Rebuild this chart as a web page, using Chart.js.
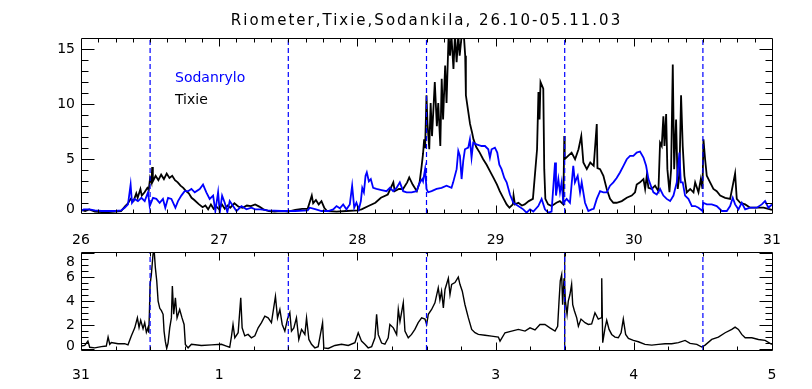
<!DOCTYPE html>
<html>
<head>
<meta charset="utf-8">
<script src="https://cdn.jsdelivr.net/npm/chart.js@4.4.1/dist/chart.umd.min.js"></script>
<style>
  body{margin:0;background:#fff;width:812px;height:389px;overflow:hidden;position:relative}
  canvas{position:absolute;left:0}
  #topChart{top:0}
  #botChart{top:247px}
</style>
</head>
<body>
<canvas id="topChart" width="812" height="247"></canvas>
<canvas id="botChart" width="812" height="142"></canvas>
<script>
// --- data (days) ---
const titleText = "Riometer,Tixie,Sodankila, 26.10-05.11.03";
const botDayLabels = ["31","1","2","3","4","5"];
const topMarks = [26.5, 27.5, 28.5, 29.5, 30.5];
const botMarks = [0.5, 1.5, 2.5, 3.5, 4.5];
const botSolid = [3.5];
const topYLabels = [0, 5, 10, 15];
const botYLabels = [0, 2, 4, 6, 8];
const topRange = [0.12, 16];
const botRange = [-0.08, 8.1];

// Tixie (black), upper panel
const tixT = [26.00,26.03,26.06,26.10,26.15,26.20,26.25,26.29,26.32,26.34,26.36,26.38,26.40,26.41,26.43,26.44,26.46,26.48,26.49,26.50,
  26.51,26.515,26.52,26.54,26.56,26.58,26.60,26.62,26.64,26.66,26.68,26.70,26.72,26.74,26.76,26.78,26.80,26.82,26.85,26.88,
  26.90,26.92,26.94,26.96,26.98,27.00,27.02,27.04,27.06,27.08,27.11,27.14,27.17,27.20,27.23,27.26,27.29,27.32,27.36,27.40,
  27.45,27.50,27.55,27.60,27.64,27.67,27.68,27.70,27.72,27.74,27.76,27.78,27.85,27.92,28.00,28.03,28.08,28.13,28.17,28.22,
  28.26,28.27,28.30,28.33,28.36,28.375,28.40,28.43,28.45,28.465,28.475,28.483,28.49,28.50,28.507,28.52,28.53,28.54,28.56,28.575,
  28.585,28.60,28.61,28.62,28.635,28.645,28.66,28.67,28.68,28.695,28.706,28.718,28.73,28.74,28.755,28.77,28.78,28.785,28.80,28.815,
  28.83,28.84,28.86,28.885,28.91,28.935,28.96,28.985,29.01,29.03,29.055,29.08,29.10,29.125,29.13,29.14,29.165,29.19,29.21,29.24,
  29.27,29.30,29.31,29.318,29.325,29.345,29.352,29.36,29.38,29.405,29.44,29.465,29.49,29.497,29.50,29.525,29.55,29.575,29.60,29.62,
  29.635,29.66,29.685,29.71,29.732,29.737,29.756,29.78,29.804,29.828,29.852,29.876,29.913,29.949,29.985,30.009,30.021,30.045,30.07,30.082,
  30.094,30.106,30.13,30.154,30.178,30.19,30.202,30.214,30.222,30.234,30.243,30.258,30.27,30.282,30.292,30.306,30.318,30.33,30.342,30.354,
  30.366,30.383,30.408,30.432,30.444,30.468,30.485,30.497,30.504,30.516,30.528,30.552,30.576,30.60,30.625,30.661,30.697,30.733,30.745,30.77,
  30.806,30.842,30.89,30.939,30.987,31.00];
const tixV = [0.4,0.3,0.45,0.25,0.2,0.2,0.25,0.3,0.75,1.0,1.4,1.2,1.9,1.5,2.3,1.7,2.0,2.4,2.2,3.3,
  2.9,4.3,3.0,3.5,3.1,3.6,3.2,3.7,3.3,3.5,3.1,2.9,2.6,2.4,2.1,1.9,1.5,1.3,0.95,0.65,
  0.8,0.45,0.9,0.5,0.7,0.45,0.9,0.5,0.8,0.6,1.0,0.7,0.6,0.8,0.75,0.9,0.7,0.45,0.3,0.25,
  0.3,0.25,0.4,0.5,0.5,1.7,1.0,1.3,0.9,1.2,0.6,0.3,0.25,0.3,0.35,0.45,0.75,1.05,1.5,1.8,
  2.9,2.1,2.3,2.3,2.9,3.35,2.7,2.1,2.9,4.4,5.5,6.8,6.0,10.8,8.3,5.9,10.1,7.1,12.0,8.0,
  10.1,6.2,12.3,8.6,13.5,10.1,16.3,14.4,16.3,13.2,16.3,13.8,16.3,14.4,16.3,16.3,14.4,10.8,9.5,8.2,
  7.4,6.8,6.1,5.6,5.0,4.5,3.9,3.3,2.7,2.1,1.5,0.9,0.6,0.9,1.7,0.9,1.05,0.8,0.9,1.2,
  1.4,5.9,11.1,8.6,12.0,11.4,4.1,1.4,0.9,0.75,1.05,1.2,0.9,7.1,5.0,5.3,5.6,5.0,5.9,7.1,
  4.7,4.1,4.7,4.4,8.2,4.2,4.1,3.5,2.3,1.4,1.05,1.05,1.2,1.5,1.7,2.0,2.7,2.9,3.2,2.3,
  3.5,2.4,2.3,2.6,2.1,6.5,6.2,8.9,6.2,9.1,4.1,2.0,4.1,13.6,4.1,8.6,2.3,3.5,10.8,6.2,
  3.5,2.0,2.3,2.0,2.9,2.0,3.2,2.3,6.8,5.0,3.5,2.9,2.3,2.1,1.7,1.5,1.4,3.7,1.4,1.05,
  0.9,0.6,0.6,0.6,0.45,0.4];

// Sodanrylo (blue), upper panel
const sodT = [26.00,26.02,26.06,26.10,26.15,26.20,26.25,26.29,26.316,26.34,26.359,26.369,26.388,26.412,26.437,26.461,26.485,26.497,26.521,26.545,
  26.569,26.593,26.61,26.63,26.654,26.683,26.702,26.726,26.75,26.775,26.799,26.823,26.859,26.883,26.907,26.931,26.956,26.972,26.992,27.004,
  27.021,27.04,27.059,27.076,27.10,27.125,27.161,27.197,27.233,27.26,27.30,27.35,27.45,27.55,27.64,27.655,27.70,27.74,27.79,27.825,
  27.849,27.873,27.897,27.921,27.945,27.962,27.977,27.993,28.01,28.025,28.035,28.047,28.059,28.068,28.083,28.097,28.114,28.138,28.175,28.211,
  28.235,28.259,28.283,28.307,28.331,28.356,28.392,28.428,28.452,28.469,28.475,28.49,28.50,28.512,28.537,28.573,28.609,28.645,28.681,28.693,
  28.718,28.73,28.742,28.754,28.766,28.778,28.802,28.814,28.826,28.838,28.862,28.899,28.923,28.947,28.959,28.971,28.995,29.012,29.027,29.043,
  29.063,29.08,29.104,29.128,29.164,29.20,29.224,29.249,29.273,29.309,29.333,29.357,29.381,29.405,29.43,29.437,29.454,29.466,29.478,29.49,
  29.514,29.538,29.562,29.574,29.594,29.611,29.623,29.647,29.671,29.695,29.71,29.732,29.756,29.78,29.804,29.828,29.852,29.876,29.90,29.925,
  29.949,29.973,29.997,30.021,30.045,30.07,30.089,30.106,30.123,30.142,30.166,30.19,30.214,30.238,30.263,30.287,30.311,30.33,30.34,30.354,
  30.371,30.395,30.42,30.444,30.468,30.497,30.502,30.528,30.564,30.60,30.637,30.673,30.697,30.716,30.733,30.757,30.781,30.806,30.842,30.89,
  30.926,30.95,30.974,31.00];
const sodV = [0.3,0.45,0.45,0.35,0.3,0.3,0.3,0.35,0.6,0.9,2.7,1.05,1.4,1.2,1.5,1.2,2.0,0.75,1.5,1.4,
  1.05,1.4,0.6,1.5,1.4,0.6,1.2,1.7,2.1,2.1,2.3,2.0,2.3,2.7,2.0,1.4,1.7,0.3,2.0,0.15,
  1.7,1.05,0.2,1.2,0.75,0.3,0.75,0.45,0.6,0.45,0.45,0.35,0.3,0.3,0.35,0.6,0.45,0.3,0.3,0.45,
  0.75,0.55,0.9,0.45,0.9,2.6,0.6,1.05,0.45,1.2,2.4,2.0,3.5,3.8,3.0,3.2,2.4,2.3,2.2,2.1,
  2.4,2.1,2.4,2.9,2.1,2.0,2.0,2.1,2.9,3.2,3.0,4.1,2.3,2.0,2.1,2.3,2.4,2.6,2.4,2.9,
  4.1,5.75,5.3,3.2,4.85,5.9,6.05,6.8,5.15,6.5,6.35,6.2,6.2,5.9,5.15,5.9,6.05,5.6,4.5,4.1,
  3.3,2.9,1.8,1.05,0.75,0.45,0.15,0.45,0.25,0.75,1.4,0.45,0.15,0.25,4.7,1.7,3.2,2.0,2.9,1.05,
  1.4,1.05,4.4,2.9,3.5,2.0,2.9,1.05,0.3,0.45,0.5,1.4,2.1,2.0,2.0,2.6,2.9,3.3,3.8,4.4,
  5.0,5.3,5.3,5.6,5.7,5.15,4.4,3.2,2.6,2.0,1.8,2.3,1.7,1.4,1.2,1.7,2.9,5.6,2.9,2.9,
  1.7,1.4,0.75,0.75,0.6,0.3,1.05,0.9,0.9,0.75,0.3,0.3,0.75,1.5,0.9,0.45,1.05,0.45,0.6,0.6,
  0.9,1.2,0.6,0.9];

// Tixie (black), lower panel: 0 = 31.10
const botT = [0.002,0.027,0.05,0.063,0.099,0.147,0.183,0.196,0.208,0.22,0.268,0.316,0.34,0.364,0.389,0.408,0.42,0.432,0.449,0.461,
  0.473,0.485,0.49,0.495,0.50,0.509,0.521,0.529,0.538,0.548,0.558,0.57,0.582,0.594,0.601,0.61,0.62,0.63,0.642,0.654,
  0.661,0.671,0.683,0.695,0.714,0.731,0.746,0.755,0.775,0.799,0.871,0.944,1.016,1.052,1.076,1.089,1.10,1.113,1.137,1.156,
  1.166,1.185,1.209,1.233,1.258,1.282,1.306,1.33,1.354,1.378,1.407,1.422,1.439,1.456,1.475,1.494,1.511,1.523,1.54,1.559,
  1.576,1.596,1.62,1.632,1.649,1.668,1.692,1.716,1.748,1.757,1.789,1.837,1.885,1.934,1.982,2.006,2.03,2.054,2.078,2.103,
  2.127,2.139,2.151,2.175,2.199,2.223,2.235,2.26,2.284,2.296,2.308,2.332,2.344,2.368,2.392,2.416,2.44,2.465,2.489,2.501,
  2.513,2.537,2.561,2.585,2.597,2.609,2.622,2.634,2.658,2.67,2.682,2.706,2.73,2.742,2.759,2.778,2.803,2.827,2.851,2.875,
  2.923,2.971,3.02,3.032,3.068,3.116,3.165,3.213,3.249,3.285,3.321,3.357,3.393,3.43,3.449,3.459,3.468,3.478,3.485,3.495,
  3.505,3.517,3.526,3.538,3.55,3.558,3.57,3.587,3.599,3.618,3.647,3.671,3.695,3.719,3.743,3.763,3.768,3.775,3.792,3.804,
  3.821,3.84,3.864,3.888,3.908,3.924,3.941,3.961,3.997,4.033,4.081,4.13,4.178,4.226,4.274,4.323,4.371,4.407,4.456,4.492,
  4.516,4.564,4.612,4.661,4.709,4.733,4.757,4.781,4.806,4.854,4.902,4.95,4.999];
const botV = [0.25,0.3,0.66,0.15,0.1,0.2,0.25,1.0,0.4,0.55,0.44,0.45,0.35,1.08,1.77,2.6,1.8,2.4,1.7,2.2,
  1.4,1.8,1.36,3.0,5.4,6.2,7.9,8.3,6.8,5.7,4.0,3.4,3.2,2.9,1.5,0.66,0.05,0.5,1.77,2.6,
  5.25,2.9,4.27,2.6,3.3,2.6,2.05,0.39,0.1,0.4,0.3,0.35,0.4,0.25,0.15,1.08,2.05,0.94,1.36,4.27,
  1.77,1.1,1.22,0.94,1.1,1.77,2.2,2.75,2.6,2.2,4.4,2.6,3.3,2.05,1.5,2.5,3.03,1.5,1.77,2.6,
  0.8,1.64,1.22,2.6,0.8,0.4,0.1,0.2,2.2,0.1,0.05,0.3,0.4,0.3,0.53,1.36,0.66,0.4,0.1,0.2,
  0.94,2.9,1.2,0.5,0.4,0.94,2.05,1.77,1.2,3.3,2.3,3.86,1.5,0.94,1.22,1.64,2.2,2.6,2.5,2.05,
  2.9,3.3,3.86,5.1,4.1,4.83,3.44,4.97,5.9,4.55,5.4,5.55,6.0,5.4,4.83,3.72,2.6,1.64,1.36,1.22,
  1.15,1.08,1.0,0.66,1.36,1.5,1.64,1.5,1.77,1.6,2.05,2.05,1.77,1.5,1.9,4.0,5.7,6.2,3.7,5.9,
  4.0,2.9,4.0,4.55,5.4,3.7,3.2,2.6,1.9,2.5,2.2,2.05,2.1,3.03,2.5,2.6,5.9,0.53,1.77,2.4,
  1.64,1.22,1.0,0.94,1.36,2.5,1.22,0.89,0.72,0.61,0.39,0.33,0.39,0.44,0.44,0.53,0.72,0.47,0.39,0.17,
  0.33,0.8,1.0,1.36,1.64,1.83,1.64,1.22,0.94,0.94,0.8,0.72,0.39];

const pts = (t, v) => t.map((x, i) => ({x, y: v[i]}));
const FONT = '"DejaVu Sans", sans-serif';
const BLUE = "#0000ff";

// vertical day markers as line datasets spanning the y range
function markerSets(marks, range, color, dash){
  return marks.map(v => ({
    data: [{x: v, y: range[0]}, {x: v, y: range[1]}],
    borderColor: color, borderWidth: 1.2, borderDash: dash,
    pointRadius: 0, order: -1, clip: false
  }));
}

// IDL-style box: inward ticks on all four sides, edge-clamped y labels
const idlBox = {
  id: "idlBox",
  afterDraw(chart, args, o){
    const {ctx, chartArea: a, scales: {x, y}} = chart;
    const L = Math.round(a.left) + 0.5, R = Math.round(a.right) + 0.5;
    const T = Math.round(a.top) + 0.5, B = Math.round(a.bottom) + 0.5;
    const isMajor = (v, m) => Math.abs(v / m - Math.round(v / m)) < 1e-6;
    ctx.save();
    ctx.setLineDash([]);
    ctx.strokeStyle = "#000";
    ctx.lineWidth = 1;
    ctx.beginPath();
    ctx.rect(L, T, R - L, B - T);
    const nx = Math.round((x.max - x.min) / o.xMinor);
    for(let i = 1; i < nx; i++){
      const v = x.min + i * o.xMinor;
      const px = Math.round(x.getPixelForValue(v)) + 0.5;
      const len = isMajor(v, 1) ? 8 : 4;
      ctx.moveTo(px, B); ctx.lineTo(px, B - len);
      ctx.moveTo(px, T); ctx.lineTo(px, T + len);
    }
    for(let v = Math.ceil(y.min / o.yMinor) * o.yMinor; v <= y.max; v += o.yMinor){
      const py = Math.round(y.getPixelForValue(v)) + 0.5;
      if(py <= T || py >= B) continue;
      const len = isMajor(v, o.yMajor) ? 13 : 7;
      ctx.moveTo(L, py); ctx.lineTo(L + len, py);
      ctx.moveTo(R, py); ctx.lineTo(R - len, py);
    }
    ctx.stroke();

    ctx.fillStyle = "#000";
    ctx.font = "14px " + FONT;
    ctx.textAlign = "right";
    ctx.textBaseline = "middle";
    o.yLabels.forEach(v=>{
      let py = y.getPixelForValue(v);
      py = Math.min(Math.max(py, a.top + 10), a.bottom - 4);
      ctx.fillText(String(v), a.left - 6, py);
    });

    if(o.legend){
      ctx.textAlign = "left";
      o.legend.forEach((it, i)=>{
        ctx.fillStyle = it.color;
        ctx.fillText(it.text, a.left + 94, a.top + 40 + i * 22);
      });
    }
    if(o.title){
      ctx.fillStyle = "#000";
      ctx.font = "15px " + FONT;
      ctx.letterSpacing = "2px";
      ctx.textAlign = "center";
      ctx.textBaseline = "alphabetic";
      ctx.fillText(o.title, (a.left + a.right) / 2, 25);
    }
    ctx.restore();
  }
};

const xTicks = (pad, cb) => ({
  stepSize: 1, padding: pad, color: "#000", maxRotation: 0, autoSkip: false,
  font: {family: FONT, size: 14}, callback: cb
});

new Chart(document.getElementById("topChart"), {
  type: "line",
  data: {
    datasets: [
      ...markerSets(topMarks, topRange, BLUE, [5, 3]),
      {label: "Sodanrylo", data: pts(sodT, sodV), borderColor: BLUE, borderWidth: 1.8, pointRadius: 0, order: 0},
      {label: "Tixie", data: pts(tixT, tixV), borderColor: "#000", borderWidth: 1.8, pointRadius: 0, order: 1}
    ]
  },
  options: {
    responsive: false, animation: false, devicePixelRatio: 1,
    layout: {padding: {left: 81, right: 40, top: 38, bottom: 0}},
    scales: {
      x: {type: "linear", min: 26, max: 31,
          grid: {display: false, drawTicks: false}, border: {display: false},
          ticks: xTicks(19, v => String(v)),
          afterFit: s => { s.height = 247 - 213; }},
      y: {display: false, min: topRange[0], max: topRange[1]}
    },
    plugins: {
      legend: {display: false}, tooltip: {enabled: false}, title: {display: false},
      idlBox: {xMinor: 0.125, yMinor: 1, yMajor: 5, yLabels: topYLabels, title: titleText,
               legend: [{text: "Sodanrylo", color: BLUE}, {text: "Tixie", color: "#000"}]}
    }
  },
  plugins: [idlBox]
});

new Chart(document.getElementById("botChart"), {
  type: "line",
  data: {
    datasets: [
      ...markerSets(botMarks, botRange, BLUE, [5, 3]),
      ...markerSets(botSolid, botRange, "#000", []).map(d => ({...d, order: 0})),
      {label: "Tixie", data: pts(botT, botV), borderColor: "#000", borderWidth: 1.4, pointRadius: 0, order: 1}
    ]
  },
  options: {
    responsive: false, animation: false, devicePixelRatio: 1,
    layout: {padding: {left: 81, right: 40, top: 5, bottom: 0}},
    scales: {
      x: {type: "linear", min: 0, max: 5,
          grid: {display: false, drawTicks: false}, border: {display: false},
          ticks: xTicks(17, v => botDayLabels[Math.round(v)]),
          afterFit: s => { s.height = 142 - 103; }},
      y: {display: false, min: botRange[0], max: botRange[1]}
    },
    plugins: {
      legend: {display: false}, tooltip: {enabled: false}, title: {display: false},
      idlBox: {xMinor: 0.25, yMinor: 0.5, yMajor: 2, yLabels: botYLabels}
    }
  },
  plugins: [idlBox]
});
</script>
</body>
</html>
